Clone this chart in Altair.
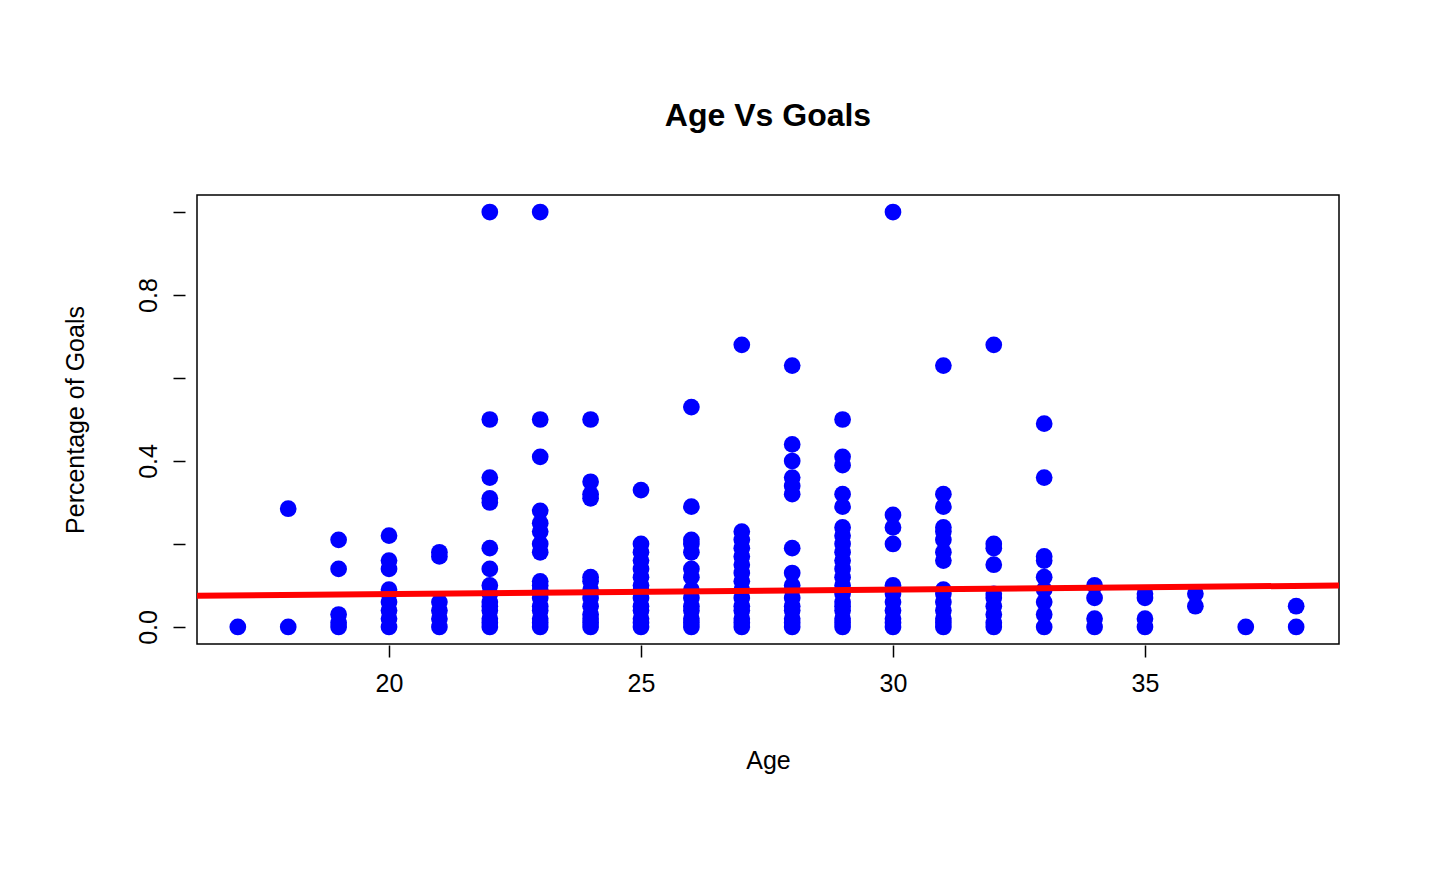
import altair as alt
import pandas as pd

goals_by_age = {
    17: [0],
    18: [0, 0.285],
    19: [0, 0.01, 0.03, 0.14, 0.21],
    20: [0, 0.02, 0.04, 0.06, 0.08, 0.09, 0.14, 0.16, 0.22],
    21: [0, 0.02, 0.04, 0.06, 0.17, 0.18],
    22: [0, 0.01, 0.02, 0.04, 0.05, 0.06, 0.08, 0.1, 0.14, 0.19, 0.3, 0.31, 0.36, 0.5, 1.0],
    23: [0, 0.01, 0.02, 0.04, 0.05, 0.07, 0.09, 0.1, 0.11, 0.18, 0.2, 0.23, 0.25, 0.28, 0.41, 0.5, 1.0],
    24: [0, 0.01, 0.02, 0.03, 0.05, 0.07, 0.09, 0.11, 0.12, 0.31, 0.32, 0.35, 0.5],
    25: [0, 0.01, 0.02, 0.04, 0.05, 0.07, 0.09, 0.1, 0.12, 0.14, 0.16, 0.18, 0.2, 0.33],
    26: [0, 0.01, 0.02, 0.04, 0.05, 0.07, 0.09, 0.12, 0.14, 0.18, 0.2, 0.21, 0.29, 0.53],
    27: [0, 0.01, 0.02, 0.04, 0.05, 0.07, 0.09, 0.11, 0.13, 0.15, 0.17, 0.19, 0.21, 0.23, 0.68],
    28: [0, 0.01, 0.02, 0.04, 0.05, 0.07, 0.09, 0.1, 0.13, 0.19, 0.32, 0.34, 0.36, 0.4, 0.44, 0.63],
    29: [0, 0.01, 0.02, 0.04, 0.05, 0.06, 0.08, 0.1, 0.12, 0.14, 0.16, 0.18, 0.2, 0.22, 0.24, 0.29, 0.32, 0.39, 0.41, 0.5],
    30: [0, 0.01, 0.02, 0.04, 0.06, 0.08, 0.1, 0.2, 0.24, 0.27, 1.0],
    31: [0, 0.01, 0.02, 0.04, 0.06, 0.08, 0.09, 0.16, 0.18, 0.21, 0.23, 0.24, 0.29, 0.32, 0.63],
    32: [0, 0.01, 0.03, 0.05, 0.07, 0.08, 0.15, 0.19, 0.2, 0.68],
    33: [0, 0.03, 0.06, 0.09, 0.12, 0.16, 0.17, 0.36, 0.49],
    34: [0, 0.02, 0.07, 0.1],
    35: [0, 0.02, 0.07, 0.08],
    36: [0.05, 0.08],
    37: [0],
    38: [0, 0.05],
}

# fitted line from the original model (abline)
fit_intercept = 0.0572
fit_slope = 0.0011

ages = [a for a, vs in goals_by_age.items() for _ in vs]
goals = [v for vs in goals_by_age.values() for v in vs]
df = pd.DataFrame({"age": ages, "goals": goals})

x_dom = [16.19, 38.85]
y_dom = [-0.041, 1.041]
line_df = pd.DataFrame({"age": x_dom})

x = alt.X(
    "age:Q",
    scale=alt.Scale(domain=x_dom, nice=False, zero=False),
    axis=alt.Axis(values=[20, 25, 30, 35], title="Age", grid=False, domain=False,
                  offset=1, tickSize=12, labelPadding=14, titlePadding=52,
                  labelFontSize=25, titleFontSize=25),
)
y = alt.Y(
    "goals:Q",
    scale=alt.Scale(domain=y_dom, nice=False),
    axis=alt.Axis(values=[0, 0.2, 0.4, 0.6, 0.8, 1.0], title="Percentage of Goals",
                  grid=False, domain=False, offset=12, tickSize=12, labelAngle=-90,
                  labelAlign="center", labelBaseline="bottom", labelPadding=12,
                  labelExpr="datum.value == 0 || datum.value == 0.4 || datum.value == 0.8 ? format(datum.value, '.1f') : ''",
                  titlePadding=48, labelFontSize=25, titleFontSize=25),
)

points = alt.Chart(df).mark_circle(color="#0000ff", opacity=1, size=280).encode(x=x, y=y)
line = (
    alt.Chart(line_df)
    .transform_calculate(goals=f"{fit_intercept} + {fit_slope} * datum.age")
    .mark_line(color="#ff0000", strokeWidth=6, clip=True)
    .encode(x="age:Q", y="goals:Q")
)

chart = (
    alt.layer(points, line)
    .properties(
        width=1142, height=449,
        title=alt.TitleParams("Age Vs Goals", fontSize=32, font="Liberation Sans",
                              fontWeight="bold", offset=62),
        autosize=alt.AutoSizeParams(type="none"),
        padding={"left": 189, "top": 187, "right": 80, "bottom": 230},
    )
    .configure_view(stroke="black", strokeWidth=1.5)
    .configure_axis(labelFont="Liberation Sans", titleFont="Liberation Sans",
                    titleFontWeight="normal",
                    labelColor="black", titleColor="black", tickColor="black", tickWidth=1.5)
)

chart.save("out.html", embed_options={"renderer": "svg", "actions": False})
